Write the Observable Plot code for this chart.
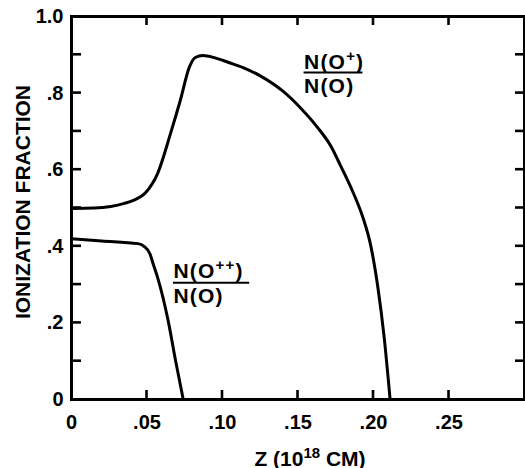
<!DOCTYPE html>
<html>
<head>
<meta charset="utf-8">
<script src="https://cdn.jsdelivr.net/npm/d3@7"></script>
<script src="https://cdn.jsdelivr.net/npm/@observablehq/plot@0.6"></script>
<style>
  html, body { margin: 0; padding: 0; background: #fff; }
  #chart svg { display: block; }
</style>
</head>
<body>
<div id="chart"></div>
<script>
// ---- Data ----
// N(O+)/N(O) versus Z (10^18 cm)
const oPlusZ = [0, 0.015, 0.026, 0.035, 0.041, 0.049, 0.057, 0.066, 0.072, 0.078, 0.082, 0.087, 0.095, 0.104, 0.114, 0.125, 0.140, 0.152, 0.163, 0.172, 0.178, 0.186, 0.193, 0.198, 0.203, 0.207, 0.211];
const oPlusF = [0.499, 0.500, 0.504, 0.512, 0.520, 0.540, 0.590, 0.700, 0.780, 0.867, 0.893, 0.898, 0.892, 0.880, 0.866, 0.845, 0.805, 0.760, 0.710, 0.660, 0.612, 0.545, 0.475, 0.405, 0.290, 0.165, 0];
// N(O++)/N(O) versus Z
const oPlusPlusZ = [0, 0.020, 0.044, 0.048, 0.052, 0.054, 0.057, 0.064, 0.069, 0.074];
const oPlusPlusF = [0.420, 0.414, 0.407, 0.400, 0.380, 0.355, 0.319, 0.206, 0.100, 0];

// Axis ticks and labels
const yTicks = [0, 0.2, 0.4, 0.6, 0.8, 1.0];
const yTickLabels = ["0", ".2", ".4", ".6", ".8", "1.0"];
const yTickMarks = [0.1, 0.2, 0.3, 0.4, 0.5, 0.6, 0.7, 0.8, 0.9];
const xTicks = [0, 0.05, 0.10, 0.15, 0.20, 0.25];
const xTickLabels = ["0", ".05", ".10", ".15", ".20", ".25"];
const xTickMarks = [0.05, 0.10, 0.15, 0.20, 0.25];

// Texts ("^" toggles superscript)
const yTitle = "IONIZATION FRACTION";
const xTitle = "Z (10^18^ CM)";
const labelNumerators = ["N(O^+^)", "N(O^++^)"];
const labelDenominators = ["N(O)", "N(O)"];
// Annotation anchors in data coordinates
const labelZ = [0.154, 0.0675];
const labelZEnd = [0.193, 0.118];
const numeratorF = [0.864, 0.316];
const barF = [0.854, 0.305];
const denominatorF = [0.799, 0.253];

// ---- Build tables ----
const oPlus = oPlusZ.map((z, i) => ({z, f: oPlusF[i]}));
const oPlusPlus = oPlusPlusZ.map((z, i) => ({z, f: oPlusPlusF[i]}));
const labels = labelZ.map((z, i) => ({
  z, z2: labelZEnd[i], num: labelNumerators[i], den: labelDenominators[i],
  fn: numeratorF[i], fb: barF[i], fd: denominatorF[i]
}));

const W = 525, H = 468;
const mL = 71, mR = 1, mT = 16, mB = 69;
const xDomain = [0, 0.3], yDomain = [0, 1];
const ink = "#000";

const chart = Plot.plot({
  width: W, height: H,
  marginLeft: mL, marginRight: mR, marginTop: mT, marginBottom: mB,
  x: {domain: xDomain},
  y: {domain: yDomain},
  style: {fontFamily: "'Liberation Sans', Arial, sans-serif", fontWeight: "bold", background: "#fff", color: ink},
  marks: [
    // tick labels
    Plot.axisY(yTicks, {
      anchor: "left", tickSize: 0, tickPadding: 8, fontSize: 20, label: null,
      tickFormat: d => yTickLabels[yTicks.indexOf(d)]
    }),
    Plot.axisX(xTicks, {
      anchor: "bottom", tickSize: 0, tickPadding: 15, fontSize: 20, label: null,
      tickFormat: d => xTickLabels[xTicks.indexOf(d)]
    }),
    Plot.frame({stroke: ink, strokeWidth: 3}),
    // curves
    Plot.line(oPlus, {x: "z", y: "f", stroke: ink, strokeWidth: 3, curve: "monotone-x"}),
    Plot.line(oPlusPlus, {x: "z", y: "f", stroke: ink, strokeWidth: 3, curve: "monotone-x"}),
    // fraction labels
    Plot.text(labels, {x: "z", y: "fn", text: "num", textAnchor: "start", lineAnchor: "bottom", fontSize: 21, fill: ink}),
    Plot.ruleY(labels, {y: "fb", x1: "z", x2: "z2", stroke: ink, strokeWidth: 2}),
    Plot.text(labels, {x: "z", y: "fd", text: "den", textAnchor: "start", lineAnchor: "bottom", fontSize: 21, fill: ink}),
    // axis titles
    Plot.text([yTitle], {frameAnchor: "left", textAnchor: "middle", dx: -48, dy: -6, rotate: -90, fontSize: 21, fill: ink}),
    Plot.text([xTitle], {frameAnchor: "bottom", textAnchor: "middle", dx: 12, dy: 66, lineAnchor: "bottom", fontSize: 21, fill: ink})
  ]
});

// Superscripts: "^" toggles a raised, smaller span
chart.querySelectorAll("text").forEach(t => {
  const s = t.textContent;
  if (s.startsWith("N(")) t.setAttribute("letter-spacing", "1.2");
  if (!s.includes("^")) return;
  const parts = s.split("^");
  t.textContent = "";
  parts.forEach((p, i) => {
    if (!p) return;
    const ts = document.createElementNS("http://www.w3.org/2000/svg", "tspan");
    ts.textContent = p;
    if (i % 2 === 1) {
      ts.setAttribute("font-size", "15");
      ts.setAttribute("dy", "-8");
    } else if (i > 0) {
      ts.setAttribute("dy", "8");
    }
    t.appendChild(ts);
  });
});

// Inward ticks on all four sides, positioned with Plot's own scales
const sx = chart.scale("x"), sy = chart.scale("y");
const x0 = sx.apply(xDomain[0]), x1 = sx.apply(xDomain[1]);
const y0 = sy.apply(yDomain[0]), y1 = sy.apply(yDomain[1]);
const gt = d3.select(chart).append("g")
  .attr("stroke", ink).attr("stroke-width", 2.6).attr("fill", "none");
gt.selectAll("line.l").data(yTickMarks).join("line")
  .attr("x1", x0).attr("x2", x0 + 10)
  .attr("y1", d => sy.apply(d)).attr("y2", d => sy.apply(d));
gt.selectAll("line.r").data(yTickMarks).join("line")
  .attr("x1", x1 - 9).attr("x2", x1)
  .attr("y1", d => sy.apply(d)).attr("y2", d => sy.apply(d));
gt.selectAll("line.b").data(xTickMarks).join("line")
  .attr("x1", d => sx.apply(d)).attr("x2", d => sx.apply(d))
  .attr("y1", y0).attr("y2", y0 - 9);
gt.selectAll("line.t").data(xTickMarks).join("line")
  .attr("x1", d => sx.apply(d)).attr("x2", d => sx.apply(d))
  .attr("y1", y1).attr("y2", y1 + 9);

document.getElementById("chart").appendChild(chart);
</script>
</body>
</html>
